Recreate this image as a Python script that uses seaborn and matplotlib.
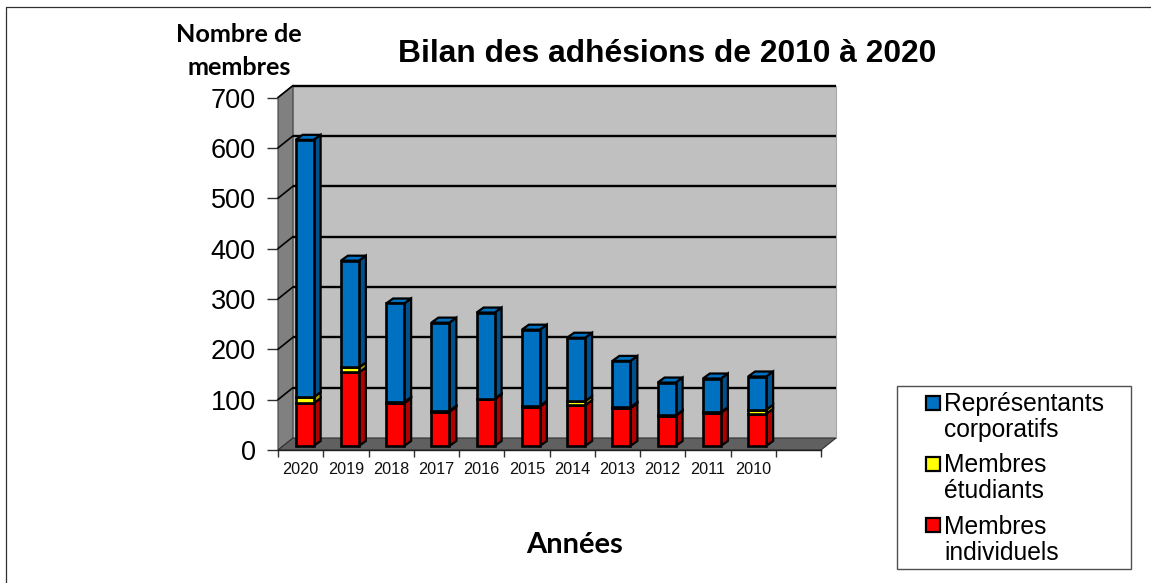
#!/usr/bin/env python3

import numpy as np
import pandas as pd
import seaborn as sns
from matplotlib import pyplot as plt
from matplotlib.patches import Polygon, Rectangle
from matplotlib.transforms import ScaledTranslation

years = ["2020", "2019", "2018", "2017", "2016", "2015", "2014", "2013", "2012", "2011", "2010"]
individuels = [85, 146, 85, 68, 93, 78, 81, 75, 60, 66, 64]
etudiants = [12, 10, 2, 2, 1, 2, 8, 2, 1, 1, 8]
corporatifs = [511, 212, 196, 175, 171, 151, 126, 92, 65, 67, 66]
y_ticks = [0, 100, 200, 300, 400, 500, 600, 700]

W, H, DPI = 1151, 583, 100
AX_L, AX_R, AX_TOP, AX_BOT = 278, 821, 97.5, 450
WALL_DX, WALL_DY = 15, 12
BAR_DX, BAR_DY = 7, 5
SHIFT_X, SHIFT_Y = 4, 4

series = [("Membres individuels", individuels, "#ff0000", "#b00000"),
          ("Membres étudiants", etudiants, "#ffff00", "#a0a000"),
          ("Représentants corporatifs", corporatifs, "#0070c0", "#00508c")]


def shift(ax, dx, dy):
    return ax.transData + ScaledTranslation(dx / DPI, dy / DPI, ax.figure.dpi_scale_trans)


def draw_walls(ax):
    x0, x1 = -0.5, 11.5
    ppx = (AX_R - AX_L) / 12
    ppy = (AX_BOT - AX_TOP) / 700
    dx, dy = WALL_DX / ppx, WALL_DY / ppy
    ax.add_patch(Polygon([(x0 + dx, dy), (x1 + dx, dy), (x1 + dx, 700 + dy), (x0 + dx, 700 + dy)],
                         fc="#c0c0c0", ec="#a8a8a8", lw=0.8, clip_on=False, zorder=1))
    ax.add_patch(Polygon([(x0, 0), (x0 + dx, dy), (x0 + dx, 700 + dy), (x0, 700)],
                         fc="#808080", ec="#404040", lw=0.8, clip_on=False, zorder=1))
    ax.add_patch(Polygon([(x0, 0), (x1, 0), (x1 + dx, dy), (x0 + dx, dy)],
                         fc="#606060", ec="#303030", lw=0.8, clip_on=False, zorder=1))
    for tick in y_ticks[1:]:
        ax.plot([x0 + dx, x1 + dx], [tick + dy, tick + dy], color="black", lw=1.7,
                clip_on=False, zorder=2, solid_capstyle="butt")
        ax.plot([x0, x0 + dx], [tick, tick + dy], color="black", lw=1.2,
                clip_on=False, zorder=2)


def draw_bars(ax, df):
    ppx = (AX_R - AX_L) / 12
    ppy = (AX_BOT - AX_TOP) / 700
    dx, dy = BAR_DX / ppx, BAR_DY / ppy
    trans = shift(ax, SHIFT_X, SHIFT_Y)
    bottoms = np.zeros(len(years))
    for name, values, color, dark in series:
        n_before = len(ax.patches)
        sns.barplot(df, x="Année", y=name, color=color, width=18 / ppx, bottom=bottoms, ax=ax,
                    saturation=1, edgecolor="black", linewidth=1.9, zorder=4, label=name)
        for bar in ax.patches[n_before:]:
            bar.set_transform(trans)
            bar.set_clip_on(False)
            x, w = bar.get_x(), bar.get_width()
            y, h = bar.get_y(), bar.get_height()
            ax.add_patch(Polygon([(x + w, y), (x + w + dx, y + dy), (x + w + dx, y + h + dy), (x + w, y + h)],
                                 transform=trans, fc=dark, ec="black", lw=1.6, clip_on=False, zorder=3.5))
            if name == series[-1][0]:
                ax.add_patch(Polygon([(x, y + h), (x + dx, y + h + dy), (x + w + dx, y + h + dy), (x + w, y + h)],
                                     transform=trans, fc=color, ec="black", lw=1.6, clip_on=False, zorder=3.5))
        bottoms = bottoms + np.array(values)


def main():
    sns.set_theme(style="white")
    plt.rcParams["font.family"] = ["Liberation Sans", "DejaVu Sans"]

    df = pd.DataFrame({"Année": years})
    for name, values, _, _ in series:
        df[name] = values

    fig = plt.figure(figsize=(W / DPI, H / DPI), dpi=DPI)
    # only the top and left edges of the outer frame show in the picture
    fig.add_artist(plt.Line2D([5.5 / W, 5.5 / W, 1], [0, 1 - 6.5 / H, 1 - 6.5 / H], transform=fig.transFigure,
                              color="#303030", lw=0.9))
    ax = fig.add_axes([AX_L / W, 1 - AX_BOT / H, (AX_R - AX_L) / W, (AX_BOT - AX_TOP) / H])
    ax.set_facecolor("none")
    ax.set_xlim(-0.5, 11.5)
    ax.set_ylim(0, 700)

    draw_walls(ax)
    draw_bars(ax, df)

    ax.set_xlim(-0.5, 11.5)
    ax.set_ylim(0, 700)
    for spine in ["top", "right"]:
        ax.spines[spine].set_visible(False)
    ax.spines["left"].set_visible(False)
    ax.spines["bottom"].set_linewidth(1.0)
    ax.spines["bottom"].set_color("#202020")

    ax.set_yticks(y_ticks)
    ax.set_yticklabels([str(t) for t in y_ticks], fontsize=19.5, color="black")
    ax.tick_params(axis="y", length=8, width=1.0, color="#303030", pad=8, left=True)

    ax.set_xticks(np.arange(-0.5, 12, 1))
    ax.set_xticklabels([])
    ax.tick_params(axis="x", length=5, width=1.0, color="#303030", bottom=True)
    for i, year in enumerate(years):
        ax.text(i, -38, year, ha="center", va="center", fontsize=11.7, color="#111111", clip_on=False)

    ax.set_xlabel("")
    ax.set_ylabel("")
    if ax.get_legend():
        ax.get_legend().remove()

    fig.text(667 / W, 1 - 54 / H, "Bilan des adhésions de 2010 à 2020", ha="center", va="center",
             fontsize=22.9, fontweight="bold", color="black")
    fig.text(239 / W, 1 - 51 / H, "Nombre de\nmembres", ha="center", va="center", fontsize=18.2,
             fontweight="bold", family=["Lato", "DejaVu Sans"], color="black", linespacing=1.5)
    fig.text(575 / W, 1 - 545 / H, "Années", ha="center", va="center", fontsize=21, fontweight="bold",
             family=["Lato", "DejaVu Sans"], color="black")

    # legend box, drawn by hand because entries wrap on two lines
    fig.add_artist(Rectangle((897 / W, 1 - 569 / H), (1131 - 897) / W, (569 - 386) / H, transform=fig.transFigure,
                             fc="white", ec="#505050", lw=1.0))
    legend_rows = [("Représentants\ncorporatifs", "#0070c0", 403, 417), ("Membres\nétudiants", "#ffff00", 464, 478),
                   ("Membres\nindividuels", "#ff0000", 525, 540)]
    for label, color, marker_y, text_y in legend_rows:
        fig.add_artist(Rectangle((926 / W, 1 - (marker_y + 7) / H), 14 / W, 14 / H, transform=fig.transFigure,
                                 fc=color, ec="black", lw=1.6))
        fig.text(944 / W, 1 - text_y / H, label, ha="left", va="center", fontsize=17.7, color="black",
                 linespacing=1.15)

    plt.savefig("out.png", dpi=DPI)
    plt.close()


if __name__ == '__main__':
    main()
